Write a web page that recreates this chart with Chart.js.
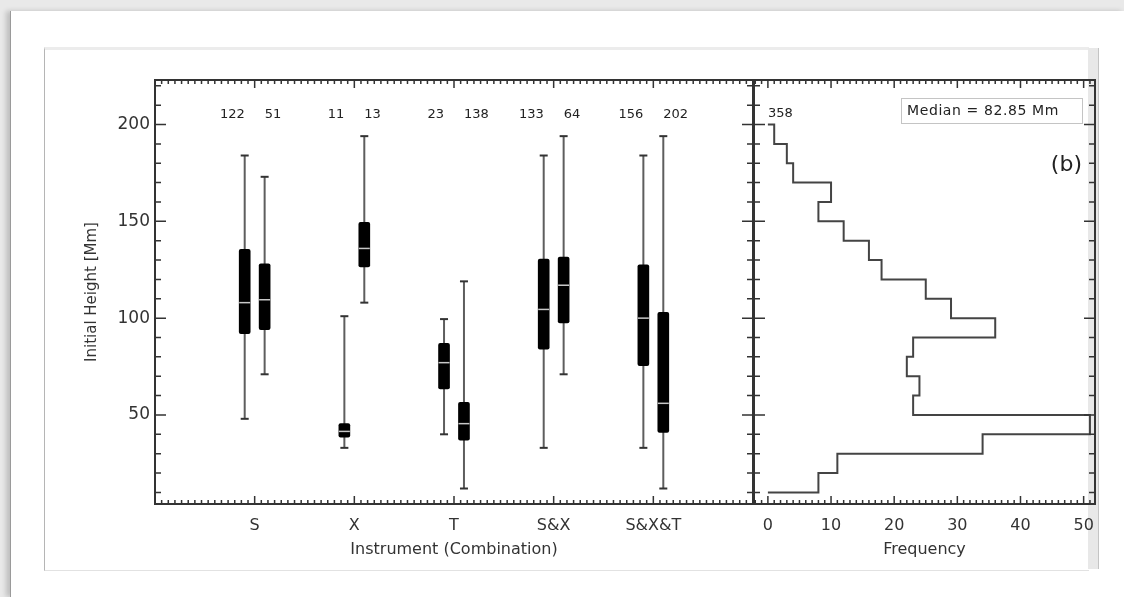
<!DOCTYPE html>
<html>
<head>
<meta charset="utf-8">
<script src="https://cdn.jsdelivr.net/npm/chart.js@4.4.1/dist/chart.umd.min.js"></script>
<style>
  html, body { margin: 0; padding: 0; }
  body { width: 1124px; height: 597px; background: #e9e9e9; position: relative; overflow: hidden; }
  #page { position: absolute; left: 10px; top: 11px; width: 1114px; height: 586px; background: #fff;
          border-left: 1px solid #9a9a9a; box-shadow: -4px 0 5px rgba(0,0,0,0.18); }
  #fig { position: absolute; left: 44px; top: 47px; width: 1044px; height: 520px; background: #fff;
         border-left: 1px solid #b5b5b5; border-top: 3px solid #ececec; border-bottom: 1px solid #e2e2e2; }
  #strip { position: absolute; left: 1088px; top: 48px; width: 10px; height: 521px; background: #e8e8e8;
           border-right: 1px solid #c4c4c4; }
  canvas { position: absolute; left: 0; top: 0; }
</style>
</head>
<body>
<div id="page"></div>
<div id="fig"></div>
<div id="strip"></div>
<canvas id="boxChart" width="1124" height="597"></canvas>
<canvas id="histChart" width="1124" height="597"></canvas>
<script>
// categories on the left panel
const groups = ["S", "X", "T", "S&X", "S&X&T"];
// two boxes per category
const boxPos = [0.9, 1.1, 1.9, 2.1, 2.9, 3.1, 3.9, 4.1, 4.9, 5.1];
const counts = [122, 51, 11, 13, 23, 138, 133, 64, 156, 202];
const whiskLo = [48, 71, 33, 108, 40, 12, 33, 71, 33, 12];
const q1 = [92, 94, 38.5, 126.5, 63.5, 37, 84, 97.5, 75.5, 41];
const med = [108, 109.5, 41.5, 136, 77, 45.5, 104.5, 117, 100, 56];
const q3 = [135.5, 128, 45.5, 149.5, 87, 56.5, 130.5, 131.5, 127.5, 103];
const whiskHi = [184, 173, 101, 194, 99.5, 119, 184, 194, 184, 194];

// histogram on the right panel (height bins in Mm, counts)
const binEdges = [200, 190, 180, 170, 160, 150, 140, 130, 120, 110, 100, 90, 80, 70, 60, 50, 40, 30, 20, 10];
const binFreq = [1, 3, 4, 10, 8, 12, 16, 18, 25, 29, 36, 23, 22, 24, 23, 51, 34, 11, 8];
const histTotal = 358;
const medianText = "Median = 82.85 Mm";

const yTicks = [50, 100, 150, 200];
const freqTicks = [0, 10, 20, 30, 40, 50];

Chart.defaults.font.family = "'DejaVu Sans', sans-serif";
Chart.defaults.color = "#333";

// box, inward ticks and annotations
const framePlugin = {
  id: "frame",
  afterDatasetsDraw(chart, args, o) {
    const { ctx, chartArea: a, scales } = chart;
    const xs = scales.x, ys = scales.y;
    ctx.save();
    ctx.strokeStyle = "#333";
    ctx.lineWidth = 1.5;
    ctx.beginPath();
    // x ticks (bottom and top)
    let n = Math.round((o.xMax - o.xMin) / o.xMinor);
    for (let k = 0; k <= n; k++) {
      const v = o.xMin + k * o.xMinor;
      const r = v / o.xMajor;
      const len = Math.abs(r - Math.round(r)) < 1e-6 ? 8 : 4;
      const px = xs.getPixelForValue(v);
      ctx.moveTo(px, a.bottom); ctx.lineTo(px, a.bottom - len);
      ctx.moveTo(px, a.top); ctx.lineTo(px, a.top + len);
    }
    // y ticks (left and right)
    for (let v = 10; v <= 220; v += 10) {
      const len = v % 50 === 0 ? 11 : 6;
      const py = ys.getPixelForValue(v);
      ctx.moveTo(a.left, py); ctx.lineTo(a.left + len, py);
      ctx.moveTo(a.right, py); ctx.lineTo(a.right - len, py);
    }
    ctx.stroke();
    ctx.lineWidth = 2;
    ctx.strokeRect(a.left, a.top, a.right - a.left, a.bottom - a.top);

    ctx.fillStyle = "#222";
    ctx.textBaseline = "middle";
    if (o.counts) {
      ctx.font = "13px 'DejaVu Sans'";
      o.counts.forEach((c, i) => {
        // first box of a pair: text ends at the box, second: text starts at it
        ctx.textAlign = i % 2 === 0 ? "right" : "left";
        ctx.fillText(String(c), xs.getPixelForValue(boxPos[i]), ys.getPixelForValue(205.2));
      });
    }
    if (o.hist) {
      ctx.font = "13px 'DejaVu Sans'";
      ctx.textAlign = "left";
      ctx.fillText(String(histTotal), xs.getPixelForValue(0), ys.getPixelForValue(205.7));
      ctx.font = "22px 'DejaVu Sans'";
      ctx.textAlign = "right";
      ctx.fillText("(b)", a.right - 13, a.top + 85);
      ctx.strokeStyle = "#c4c4c4";
      ctx.lineWidth = 1;
      ctx.strokeRect(a.right - 193.5, a.top + 18.5, 181, 25);
      ctx.font = "14px 'DejaVu Sans'";
      ctx.textAlign = "left";
      ctx.letterSpacing = "0.6px";
      ctx.fillText(medianText, a.right - 188, a.top + 31);
    }
    ctx.restore();
  }
};

// left panel datasets
const medianSet = {
  type: "scatter",
  data: boxPos.map((x, i) => ({ x: x, y: med[i] })),
  pointStyle: "line", pointRadius: 5.5, borderColor: "#c8c8c8", borderWidth: 1.5
};
const boxSet = {
  type: "bar",
  data: boxPos.map((x, i) => ({ x: x, y: [q1[i], q3[i]] })),
  backgroundColor: "#000", barThickness: 11, borderRadius: 2, borderSkipped: false
};
const capSet = {
  type: "scatter",
  data: boxPos.flatMap((x, i) => [{ x: x, y: whiskLo[i] }, { x: x, y: whiskHi[i] }]),
  pointStyle: "line", pointRadius: 4, borderColor: "#333", borderWidth: 2
};
const whiskerSets = boxPos.map((x, i) => ({
  type: "line",
  data: [{ x: x, y: whiskLo[i] }, { x: x, y: whiskHi[i] }],
  borderColor: "#5e5e5e", borderWidth: 2, pointRadius: 0
}));

const yAxis = {
  type: "linear", min: 4, max: 223,
  grid: { display: false, drawTicks: false }, border: { display: false },
  afterBuildTicks: s => { s.ticks = yTicks.map(v => ({ value: v })); },
  ticks: { font: { size: 17 }, padding: 5, color: "#333" },
  title: { display: true, text: "Initial Height [Mm]", font: { size: 15 }, padding: { top: 38, bottom: 0 } },
  afterFit: s => { s.width = 110; }
};

new Chart(document.getElementById("boxChart"), {
  type: "bar",
  data: { datasets: [medianSet, boxSet, capSet, ...whiskerSets] },
  options: {
    responsive: false, animation: false,
    layout: { padding: { left: 45, top: 80, right: 371, bottom: 29 } },
    plugins: {
      legend: { display: false }, tooltip: { enabled: false },
      frame: { xMin: 0, xMax: 6, xMinor: 1 / 15, xMajor: 1, counts: counts }
    },
    scales: {
      x: {
        type: "linear", min: 0, max: 6, offset: false,
        grid: { display: false, drawTicks: false }, border: { display: false },
        afterBuildTicks: s => { s.ticks = groups.map((g, i) => ({ value: i + 1 })); },
        ticks: { callback: v => groups[v - 1], padding: 12, font: { size: 16 }, maxRotation: 0, autoSkip: false },
        title: { display: true, text: "Instrument (Combination)", font: { size: 16 }, padding: { top: 0, bottom: 9 } },
        afterFit: s => { s.height = 64; }
      },
      y: yAxis
    }
  },
  plugins: [framePlugin]
});

// step outline of the histogram
const stepPts = [{ x: 0, y: binEdges[0] }];
binFreq.forEach((f, i) => {
  stepPts.push({ x: f, y: binEdges[i] });
  stepPts.push({ x: f, y: binEdges[i + 1] });
});
stepPts.push({ x: 0, y: binEdges[binEdges.length - 1] });

new Chart(document.getElementById("histChart"), {
  type: "scatter",
  data: {
    datasets: [{
      data: stepPts, showLine: true, pointRadius: 0,
      borderColor: "#444", borderWidth: 2, tension: 0
    }]
  },
  options: {
    responsive: false, animation: false,
    layout: { padding: { left: 754, top: 80, right: 29, bottom: 29 } },
    plugins: {
      legend: { display: false }, tooltip: { enabled: false },
      frame: { xMin: -2, xMax: 51, xMinor: 1, xMajor: 10, hist: true }
    },
    scales: {
      x: {
        type: "linear", min: -2.2, max: 51.8,
        grid: { display: false, drawTicks: false }, border: { display: false },
        afterBuildTicks: s => { s.ticks = freqTicks.map(v => ({ value: v })); },
        ticks: { padding: 12, font: { size: 16 }, maxRotation: 0, autoSkip: false },
        title: { display: true, text: "Frequency", font: { size: 16 }, padding: { top: 0, bottom: 9 } },
        afterFit: s => { s.height = 64; }
      },
      y: { type: "linear", min: 4, max: 223, display: false }
    }
  },
  plugins: [framePlugin]
});
</script>
</body>
</html>
